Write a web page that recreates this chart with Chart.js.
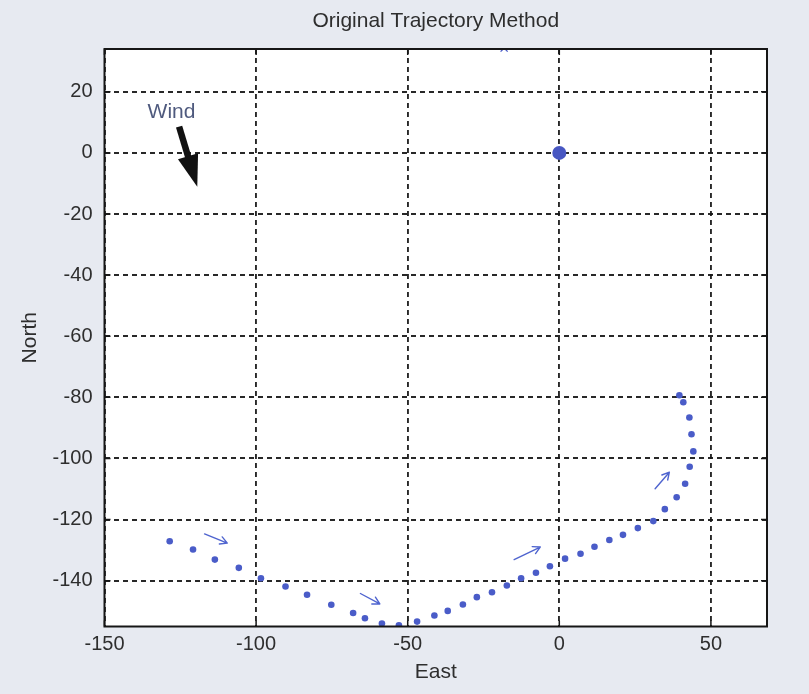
<!DOCTYPE html>
<html><head><meta charset="utf-8">
<script src="https://cdn.jsdelivr.net/npm/chart.js@4.4.1/dist/chart.umd.min.js"></script>
<style>html,body{margin:0;padding:0;background:#e7eaf1;}#wrap{width:809px;height:694px;}</style>
</head><body><div id="wrap"><canvas id="c" width="809" height="694"></canvas></div>
<script>
// ---- data ----
const chartTitle = 'Original Trajectory Method';
const xAxisTitle = 'East';
const yAxisTitle = 'North';
const xTicks = [-150, -100, -50, 0, 50];
const yTicks = [-140, -120, -100, -80, -60, -40, -20, 0, 20];
const xRange = [-150, 68.5];
const yRange = [-155, 34];
const trajEast  = [-128.5,-120.8,-113.6,-105.7,-98.4,-90.3,-83.2,-75.2,-68.0,-64.1,-58.5,-52.9,-46.9,-41.2,-36.8,-31.8,-27.2,-22.2,-17.3,-12.6,-7.7,-3.1,1.9,7.0,11.6,16.5,21.0,25.9,31.0,34.8,38.7,41.5,43.0,44.2,43.6,42.9,40.9,39.6];
const trajNorth = [-127.1,-129.8,-133.1,-135.8,-139.2,-141.9,-144.6,-147.9,-150.6,-152.3,-154.0,-154.6,-153.4,-151.4,-149.9,-147.8,-145.4,-143.8,-141.6,-139.2,-137.4,-135.3,-132.8,-131.2,-128.9,-126.7,-125.0,-122.8,-120.5,-116.6,-112.7,-108.3,-102.7,-97.7,-92.1,-86.6,-81.6,-79.3];
const originPoint = [0, 0];
const topMarker = [-18.2, 34.3];
const windLabel = 'Wind';
const windLabelPos = [-127.9, 13.2];
const windTail = [-125.4, 8.6];
const windTip = [-119.4, -11.1];
const dirStartEast  = [-117.0, -65.6, -14.9, 31.6];
const dirStartNorth = [-124.7, -144.2, -133.1, -109.9];
const dirEndEast    = [-109.5, -59.2, -6.3, 36.3];
const dirEndNorth   = [-127.7, -147.6, -129.0, -104.5];

// ---- style ----
const FONT = "'Liberation Sans', Arial, sans-serif";
const TEXT = '#2e2e2e';
const GRID = 'rgba(22,22,22,0.92)';
const BLUE = '#4a5cc8';

const bgPlugin = {
  id: 'bg',
  beforeDraw(chart) {
    const {ctx, chartArea: a} = chart;
    ctx.save();
    ctx.fillStyle = '#e7eaf1';
    ctx.fillRect(0, 0, chart.width, chart.height);
    ctx.fillStyle = '#ffffff';
    ctx.fillRect(a.left, a.top, a.right - a.left, a.bottom - a.top);
    ctx.restore();
  }
};

const annotPlugin = {
  id: 'annot',
  afterDatasetsDraw(chart) {
    const {ctx} = chart;
    const sx = chart.scales.x, sy = chart.scales.y;
    ctx.save();
    // direction arrows
    ctx.strokeStyle = '#4f64cf';
    ctx.lineWidth = 1.4;
    ctx.lineCap = 'round';
    for (let i = 0; i < dirStartEast.length; i++) {
      const x0 = sx.getPixelForValue(dirStartEast[i]), y0 = sy.getPixelForValue(dirStartNorth[i]);
      const x1 = sx.getPixelForValue(dirEndEast[i]), y1 = sy.getPixelForValue(dirEndNorth[i]);
      const ang = Math.atan2(y1 - y0, x1 - x0);
      ctx.beginPath();
      ctx.moveTo(x0, y0); ctx.lineTo(x1, y1);
      const L = 8, da = 0.5;
      ctx.moveTo(x1, y1); ctx.lineTo(x1 - L * Math.cos(ang - da), y1 - L * Math.sin(ang - da));
      ctx.moveTo(x1, y1); ctx.lineTo(x1 - L * Math.cos(ang + da), y1 - L * Math.sin(ang + da));
      ctx.stroke();
    }
    // wind arrow
    const tx = sx.getPixelForValue(windTail[0]), ty = sy.getPixelForValue(windTail[1]);
    const hx = sx.getPixelForValue(windTip[0]), hy = sy.getPixelForValue(windTip[1]);
    const len = Math.hypot(hx - tx, hy - ty);
    const ux = (hx - tx) / len, uy = (hy - ty) / len;
    const nx = -uy, ny = ux;
    const headLen = 32, headHalf = 10.5;
    const bx = hx - ux * headLen, by = hy - uy * headLen;
    ctx.strokeStyle = '#111';
    ctx.fillStyle = '#111';
    ctx.lineCap = 'butt';
    ctx.lineWidth = 6.5;
    ctx.beginPath(); ctx.moveTo(tx, ty); ctx.lineTo(bx + ux * 2, by + uy * 2); ctx.stroke();
    ctx.beginPath();
    ctx.moveTo(hx, hy);
    ctx.lineTo(bx + nx * headHalf, by + ny * headHalf);
    ctx.lineTo(bx - nx * headHalf, by - ny * headHalf);
    ctx.closePath(); ctx.fill();
    // wind label
    ctx.font = '21px ' + FONT;
    ctx.fillStyle = '#4f5a7e';
    ctx.textAlign = 'center';
    ctx.textBaseline = 'middle';
    ctx.fillText(windLabel, sx.getPixelForValue(windLabelPos[0]), sy.getPixelForValue(windLabelPos[1]));
    ctx.restore();
  }
};

const framePlugin = {
  id: 'frame',
  afterDraw(chart) {
    const {ctx, chartArea: a} = chart;
    const sx = chart.scales.x, sy = chart.scales.y;
    ctx.save();
    ctx.strokeStyle = '#161616';
    ctx.lineWidth = 2;
    ctx.strokeRect(a.left, a.top, a.right - a.left, a.bottom - a.top);
    ctx.lineWidth = 1.5;
    ctx.beginPath();
    const T = 6;
    xTicks.forEach(v => {
      const p = sx.getPixelForValue(v);
      ctx.moveTo(p, a.bottom); ctx.lineTo(p, a.bottom - T);
      ctx.moveTo(p, a.top); ctx.lineTo(p, a.top + T);
    });
    yTicks.forEach(v => {
      const p = sy.getPixelForValue(v);
      ctx.moveTo(a.left, p); ctx.lineTo(a.left + T, p);
      ctx.moveTo(a.right, p); ctx.lineTo(a.right - T, p);
    });
    ctx.stroke();
    ctx.restore();
  }
};

new Chart(document.getElementById('c'), {
  type: 'scatter',
  data: {
    datasets: [
      {
        label: 'trajectory',
        data: trajEast.map((e, i) => ({x: e, y: trajNorth[i]})),
        pointRadius: 3.3, pointBackgroundColor: BLUE, pointBorderWidth: 0,
        showLine: false, clip: 0
      },
      {
        label: 'origin',
        data: [{x: originPoint[0], y: originPoint[1]}],
        pointRadius: 7, pointBackgroundColor: '#4857c2', pointBorderWidth: 0, clip: 0
      },
      {
        label: 'top',
        data: [{x: topMarker[0], y: topMarker[1]}],
        pointStyle: 'crossRot', pointRadius: 5,
        pointBorderColor: BLUE, borderColor: BLUE, pointBorderWidth: 1.3, clip: 0
      }
    ]
  },
  options: {
    responsive: false,
    animation: false,
    devicePixelRatio: 1,
    layout: {padding: {left: 0, right: 42, top: 0, bottom: 0}},
    plugins: {legend: {display: false}, tooltip: {enabled: false}, title: {display: false}},
    scales: {
      x: {
        type: 'linear', position: 'bottom', min: xRange[0], max: xRange[1],
        afterBuildTicks: s => { s.ticks = xTicks.map(v => ({value: v})); },
        afterFit: s => { s.height = 67.5; },
        ticks: {font: {family: FONT, size: 20}, color: TEXT, padding: 6},
        grid: {color: GRID, lineWidth: 1.9, drawTicks: false},
        border: {display: false, dash: [5, 4]},
        title: {display: true, text: xAxisTitle, color: TEXT, font: {family: FONT, size: 21}, padding: {top: 0, bottom: 9}}
      },
      x2: {
        type: 'linear', position: 'top', min: xRange[0], max: xRange[1],
        afterFit: s => { s.height = 49; },
        ticks: {display: false},
        grid: {display: false, drawTicks: false},
        border: {display: false},
        title: {display: true, text: chartTitle, color: TEXT, font: {family: FONT, size: 21}, padding: {top: 8.5, bottom: 0}}
      },
      y: {
        type: 'linear', position: 'left', min: yRange[0], max: yRange[1],
        afterBuildTicks: s => { s.ticks = yTicks.map(v => ({value: v})); },
        afterFit: s => { s.width = 104.5; },
        ticks: {font: {family: FONT, size: 20}, color: TEXT, padding: 12},
        grid: {color: GRID, lineWidth: 1.9, drawTicks: false},
        border: {display: false, dash: [5, 4]},
        title: {display: true, text: yAxisTitle, color: TEXT, font: {family: FONT, size: 21}, padding: {top: 18, bottom: 0}}
      }
    }
  },
  plugins: [bgPlugin, annotPlugin, framePlugin]
});
</script>
</body></html>
